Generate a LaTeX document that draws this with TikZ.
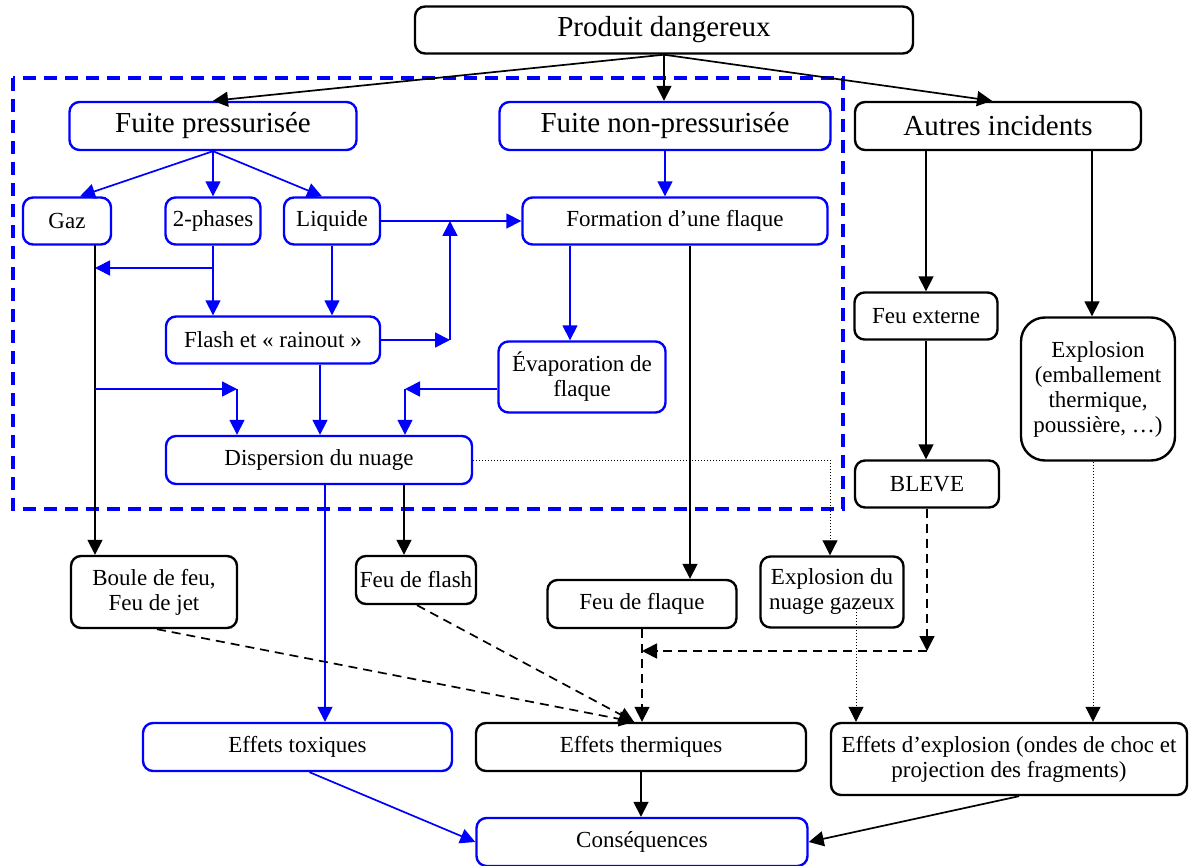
\documentclass[tikz,border=0pt]{standalone}
\usepackage{fontspec}
\setmainfont{Liberation Serif}
\usetikzlibrary{arrows.meta,calc}
\begin{document}
\begin{tikzpicture}[x=1pt,y=-1pt,
  box/.style={draw, rounded corners=10pt, line width=2.4pt, align=center, inner sep=1pt, text=black},
  bbox/.style={box, draw=blue},
  kbox/.style={box, draw=black},
  big/.style={font=\fontsize{29}{33}\selectfont},
  small/.style={font=\fontsize{23}{25}\selectfont},
  tip/.style={-{Triangle[length=15pt,width=15pt]}},
  barrow/.style={tip, draw=blue, fill=blue, line width=1.7pt},
  karrow/.style={tip, draw=black, line width=1.7pt},
  bline/.style={draw=blue, line width=1.7pt},
  kline/.style={draw=black, line width=1.7pt},
  kdash/.style={karrow, dash pattern=on 9pt off 6pt},
  kdot/.style={tip, draw=black, line width=1pt, dash pattern=on 1.2pt off 1.8pt}
]
\useasboundingbox (0,0) rectangle (1189,866);
% frame
\draw[blue, line width=3.2pt, dash pattern=on 13pt off 8pt] (13,78) rectangle (843,509);

% nodes
\node[kbox, big, minimum width=498pt, minimum height=47pt] (pd) at (664,30) {Produit dangereux};
\node[bbox, big, minimum width=287pt, minimum height=48pt] (fp) at (213,126) {Fuite pressurisée};
\node[bbox, big, minimum width=331pt, minimum height=48pt] (fnp) at (665,126) {Fuite non-pressurisée};
\node[kbox, big, minimum width=286pt, minimum height=48pt] (ai) at (998,126) {Autres incidents};
\node[bbox, small, minimum width=88pt, minimum height=47pt] (gaz) at (67,221) {Gaz};
\node[bbox, small, minimum width=95pt, minimum height=47pt] (tp) at (213,221) {2-phases};
\node[bbox, small, minimum width=96pt, minimum height=47pt] (liq) at (332,221) {Liquide};
\node[bbox, small, minimum width=305pt, minimum height=47pt] (form) at (675,221) {Formation d’une flaque};
\node[kbox, small, minimum width=143pt, minimum height=47pt] (fe) at (926,316) {Feu externe};
\node[kbox, small, minimum width=154pt, minimum height=143pt, rounded corners=24pt] (expl) at (1098,389) {Explosion\\(emballement\\thermique,\\poussière, …)};
\node[bbox, small, minimum width=214pt, minimum height=47pt] (flash) at (273,340) {Flash et « rainout »};
\node[bbox, small, minimum width=167pt, minimum height=71pt] (evap) at (582,377) {Évaporation de\\flaque};
\node[bbox, small, minimum width=306pt, minimum height=48pt] (disp) at (319,460) {Dispersion du nuage};
\node[kbox, small, minimum width=144pt, minimum height=47pt] (bleve) at (927,484) {BLEVE};
\node[kbox, small, minimum width=166pt, minimum height=72pt] (boule) at (154,592) {Boule de feu,\\Feu de jet};
\node[kbox, small, minimum width=120pt, minimum height=48pt] (ffl) at (416,580) {Feu de flash};
\node[kbox, small, minimum width=189pt, minimum height=48pt] (ffq) at (642,604) {Feu de flaque};
\node[kbox, small, minimum width=143pt, minimum height=71pt] (nuage) at (832,592) {Explosion du\\nuage gazeux};
\node[bbox, small, minimum width=309pt, minimum height=48pt] (tox) at (297.5,747) {Effets toxiques};
\node[kbox, small, minimum width=330pt, minimum height=48pt] (therm) at (641,747) {Effets thermiques};
\node[kbox, small, minimum width=356pt, minimum height=72pt] (eexp) at (1009,759) {Effets d’explosion (ondes de choc et\\projection des fragments)};
\node[bbox, small, minimum width=331pt, minimum height=48pt] (cons) at (642,842) {Conséquences};

% coordinates
\coordinate (j1) at (450,340);
\coordinate (j2) at (450,221);
\coordinate (j3) at (213,268);
\coordinate (g0) at (95,245);
\coordinate (g1) at (95,268);
\coordinate (g2) at (95,389);
\coordinate (d1) at (237,389);
\coordinate (e1) at (405,389);
\coordinate (b1) at (927,651);
\coordinate (x1) at (856,609);

% top level
\draw[karrow] (pd.south) -- (fp.north);
\draw[karrow] (pd.south) -- (pd.south |- fnp.north);
\draw[karrow] (pd.south) -- ([xshift=-6pt]ai.north);

% pressurised
\draw[barrow] (fp.south) -- ([xshift=13pt]gaz.north);
\draw[barrow] (fp.south) -- (tp.north);
\draw[barrow] (fp.south) -- ([xshift=-10pt]liq.north);
\draw[barrow] (liq.east) -- (form.west);
\draw[barrow] (flash.east |- j1) -- (j1);
\draw[barrow] (j1) -- (j2);
\draw[barrow] (tp.south) -- (tp.south |- flash.north);
\draw[bline] (tp.south) -- (j3);
\draw[barrow] (j3) -- (g1);
\draw[barrow] (liq.south) -- (liq.south |- flash.north);
\draw[kline] (g0) -- (g2);
\draw[karrow] (g2) -- (g0 |- boule.north);
\draw[barrow] (g2) -- (d1);
\draw[barrow] (d1) -- (d1 |- disp.north);
\draw[barrow] ([xshift=47pt]flash.south) -- ([xshift=47pt]flash.south |- disp.north);
\draw[barrow] (evap.west |- e1) -- (e1);
\draw[barrow] (e1) -- (e1 |- disp.north);

% non-pressurised
\draw[barrow] (fnp.south) -- (form.north -| fnp.south);
\draw[barrow] ([xshift=-105pt]form.south) -- ([xshift=-105pt]form.south |- evap.north);
\draw[karrow] ([xshift=15pt]form.south) -- ([xshift=15pt]form.south |- ffq.north);

% dispersion
\draw[barrow] ([xshift=6pt]disp.south) -- ([xshift=6pt]disp.south |- tox.north);
\draw[karrow] ([xshift=85pt]disp.south) -- ([xshift=85pt]disp.south |- ffl.north);
\draw[kdot] (disp.east) -| ([xshift=-2pt]nuage.north);

% other incidents
\draw[karrow] ([xshift=-72pt]ai.south) -- ([xshift=-72pt]ai.south |- fe.north);
\draw[karrow] ([xshift=94pt]ai.south) -- ([xshift=94pt]ai.south |- expl.north);
\draw[karrow] (fe.south) -- (fe.south |- bleve.north);
\draw[kdash] (bleve.south) -- (b1);
\draw[kdash] (b1) -- (b1 -| ffq.south);
\draw[kdash] (ffq.south) -- (ffq.south |- therm.north);
\draw[kdash] ([xshift=3pt]boule.south) -- ([xshift=-7pt]therm.north);
\draw[kdash] ([xshift=1pt]ffl.south) -- ([xshift=-7pt]therm.north);
\draw[kdot] (x1) -- (x1 |- eexp.north);
\draw[kdot] ([xshift=-5pt]expl.south) -- ([xshift=-5pt]expl.south |- eexp.north);

% consequences
\draw[karrow] (therm.south) -- (therm.south |- cons.north);
\draw[barrow] ([xshift=12pt]tox.south) -- (cons.west);
\draw[karrow] ([xshift=10pt]eexp.south) -- (cons.east);
\end{tikzpicture}
\end{document}
